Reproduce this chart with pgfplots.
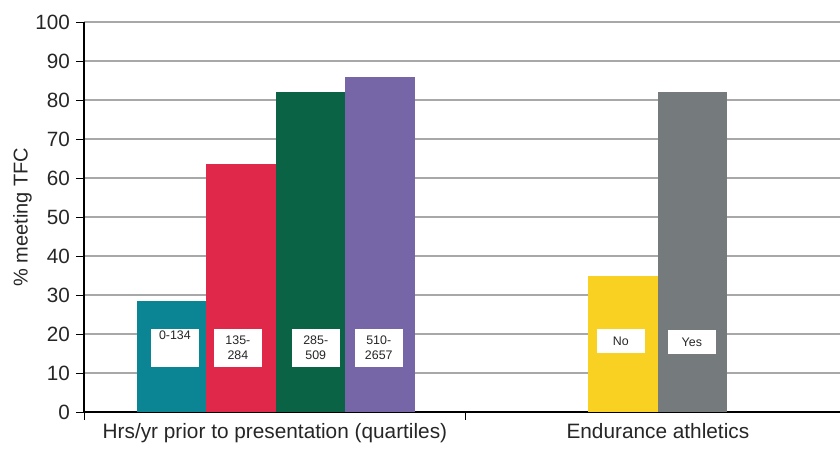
\documentclass[border=0pt]{standalone}
\usepackage{pgfplots}
\pgfplotsset{compat=1.18}
\usepackage{fontspec}
\setmainfont{Liberation Sans}
\definecolor{cteal}{HTML}{0B8493}
\definecolor{cred}{HTML}{E0294A}
\definecolor{cgreen}{HTML}{0B6346}
\definecolor{cpurple}{HTML}{7666A8}
\definecolor{cyellow}{HTML}{F9D122}
\definecolor{cgray}{HTML}{757A7C}
\definecolor{gridgray}{HTML}{A8A8A8}
\begin{document}
\begin{tikzpicture}
\begin{axis}[
    scale only axis,
    width=567pt, height=292.5pt,
    xmin=0, xmax=1.98,
    ymin=0, ymax=100,
    ytick={0,10,...,100},
    xtick={0,1},
    xticklabels={},
    extra x ticks={0.5,1.503},
    extra x tick labels={Hrs/yr prior to presentation (quartiles),Endurance athletics},
    extra x tick style={major tick length=0pt, xticklabel style={yshift=-5pt, font=\fontsize{15.6}{17}\selectfont}},
    axis lines=left,
    axis line style={-, black, line width=0.8pt},
    tick style={black, line width=0.6pt},
    major tick length=6pt,
    tick align=outside,
    ymajorgrids,
    grid style={gridgray, line width=0.9pt},
    ylabel={\% meeting TFC},
    ylabel style={yshift=-4pt},
    /pgf/number format/assume math mode=true,
    tick label style={font=\fontsize{15.5}{17}\selectfont, text=black!85},
    yticklabel style={xshift=-1pt},
    label style={font=\fontsize{15}{17}\selectfont, text=black!85},
    ybar, bar width=0.182, bar shift=0pt,
    every axis plot/.append style={draw=none},
    clip=false,
]
\addplot[fill=cteal] coordinates {(0.229,28.5)};
\addplot[fill=cred] coordinates {(0.411,63.6)};
\addplot[fill=cgreen] coordinates {(0.593,82)};
\addplot[fill=cpurple] coordinates {(0.775,86)};
\addplot[fill=cyellow] coordinates {(1.412,34.8)};
\addplot[fill=cgray] coordinates {(1.594,82)};
\tikzset{lbl/.style={fill=white, font=\fontsize{9.3}{11.5}\selectfont, text=black!85, align=center, minimum width=36pt, inner sep=0pt}}
\node[lbl, minimum height=29pt] at (axis cs:0.238,16.4) {0-134\\[8pt]};
\node[lbl, minimum height=29pt] at (axis cs:0.403,16.4) {135-\\284};
\node[lbl, minimum height=29pt] at (axis cs:0.607,16.4) {285-\\509};
\node[lbl, minimum height=29pt] at (axis cs:0.772,16.4) {510-\\2657};
\node[lbl, minimum height=18pt] at (axis cs:1.406,18.2) {No};
\node[lbl, minimum height=18pt] at (axis cs:1.592,17.9) {Yes};
\end{axis}
\pgfresetboundingbox
\path ([xshift=-63pt,yshift=-28.5pt]current axis.south west) rectangle ([yshift=16.5pt]current axis.north east);
\end{tikzpicture}
\end{document}
